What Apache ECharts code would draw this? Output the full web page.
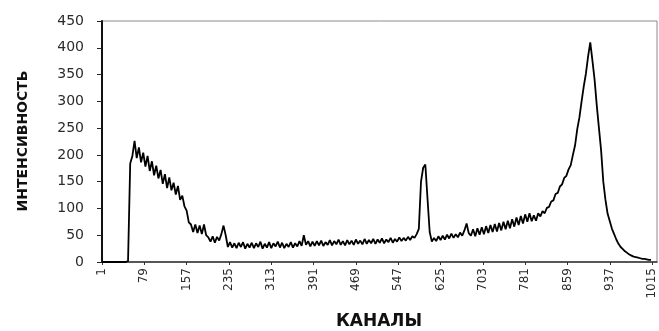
<!DOCTYPE html>
<html>
<head>
<meta charset="utf-8">
<script src="https://cdn.jsdelivr.net/npm/echarts@6/dist/echarts.min.js"></script>
<style>
  html, body { margin: 0; padding: 0; background: #fff; }
  #chart { width: 659px; height: 331px; }
</style>
</head>
<body>
<div id="chart"></div>
<script>
// spectrum sampled every 4 channels, starting at channel 1
const firstChannel = 1;
const channelStep = 4;
const counts = [
  0, 0, 0, 0, 0, 0, 0, 0, 0, 0, 0, 0, 2, 184, 198, 226,
  194, 214, 186, 204, 178, 198, 170, 188, 162, 180, 156, 172, 146, 164, 138, 158,
  134, 148, 126, 142, 116, 124, 104, 96, 74, 70, 56, 70, 54, 68, 52, 70,
  50, 46, 38, 48, 36, 47, 40, 52, 68, 50, 28, 37, 27, 35, 26, 36,
  28, 37, 25, 34, 27, 36, 26, 35, 28, 38, 25, 34, 27, 37, 26, 35,
  29, 38, 27, 36, 26, 34, 28, 37, 27, 35, 29, 39, 30, 50, 32, 39,
  29, 38, 30, 39, 31, 40, 30, 37, 32, 41, 31, 39, 33, 42, 32, 39,
  31, 41, 33, 40, 32, 42, 34, 40, 33, 43, 34, 41, 35, 43, 34, 42,
  36, 44, 35, 42, 37, 45, 36, 43, 38, 46, 39, 45, 40, 47, 41, 48,
  45, 52, 62, 150, 176, 182, 118, 56, 38, 45, 39, 48, 41, 49, 42, 51,
  44, 53, 45, 52, 46, 55, 49, 59, 72, 54, 49, 61, 48, 63, 51, 65,
  52, 67, 54, 69, 56, 71, 57, 73, 59, 75, 61, 77, 63, 80, 66, 83,
  69, 86, 72, 89, 75, 91, 76, 87, 77, 91, 85, 95, 91, 101, 103, 113,
  115, 127, 129, 141, 145, 157, 161, 173, 181, 200, 218, 248, 270, 300, 328, 352,
  384, 410, 376, 340, 292, 250, 208, 150, 116, 90, 76, 62, 52, 42, 34, 28,
  24, 20, 17, 14, 12, 10, 9, 8, 7, 6, 6, 5, 4, 4
];
const yTicks = [0, 50, 100, 150, 200, 250, 300, 350, 400, 450];
const xTitle = 'КАНАЛЫ';
const yTitle = 'ИНТЕНСИВНОСТЬ';

const chart = echarts.init(document.getElementById('chart'));

// axis runs on channel-1 so the 78-channel label spacing starts at 0
const seriesData = counts.map((c, i) => [firstChannel + i * channelStep - 1, c]);

const textColor = '#2b2b2b';

chart.setOption({
  animation: false,
  backgroundColor: '#ffffff',
  grid: {
    left: 102,
    right: 2,
    top: 21,
    bottom: 69,
    show: true,
    borderColor: '#8a8a8a',
    borderWidth: 1
  },
  xAxis: {
    type: 'value',
    min: 0,
    max: 1023,
    interval: 78,
    axisLine: { lineStyle: { color: '#333', width: 1.5 } },
    axisTick: { show: true, length: 3, lineStyle: { color: '#333' } },
    axisLabel: {
      rotate: 90,
      margin: 6,
      color: textColor,
      fontFamily: 'DejaVu Sans',
      fontSize: 12,
      showMaxLabel: false,
      formatter: v => String(v + 1)
    },
    splitLine: { show: false }
  },
  yAxis: {
    type: 'value',
    min: yTicks[0],
    max: yTicks[yTicks.length - 1],
    interval: 50,
    axisLine: { show: true, lineStyle: { color: '#111', width: 2 } },
    axisTick: { show: true, length: 5, lineStyle: { color: '#222' } },
    axisLabel: {
      margin: 18,
      color: textColor,
      fontFamily: 'DejaVu Sans',
      fontSize: 14
    },
    splitLine: { show: false }
  },
  graphic: [
    {
      type: 'text',
      style: {
        text: xTitle,
        x: 379,
        y: 322,
        align: 'center',
        verticalAlign: 'middle',
        fill: '#111',
        font: 'bold 17px "DejaVu Sans"'
      }
    },
    {
      type: 'text',
      x: 23,
      y: 141,
      rotation: Math.PI / 2,
      style: {
        text: yTitle,
        align: 'center',
        verticalAlign: 'middle',
        fill: '#111',
        font: 'bold 14px "DejaVu Sans"'
      }
    }
  ],
  series: [{
    type: 'line',
    data: seriesData,
    showSymbol: false,
    lineStyle: { color: '#000', width: 1.8 },
    z: 3
  }]
});
</script>
</body>
</html>
